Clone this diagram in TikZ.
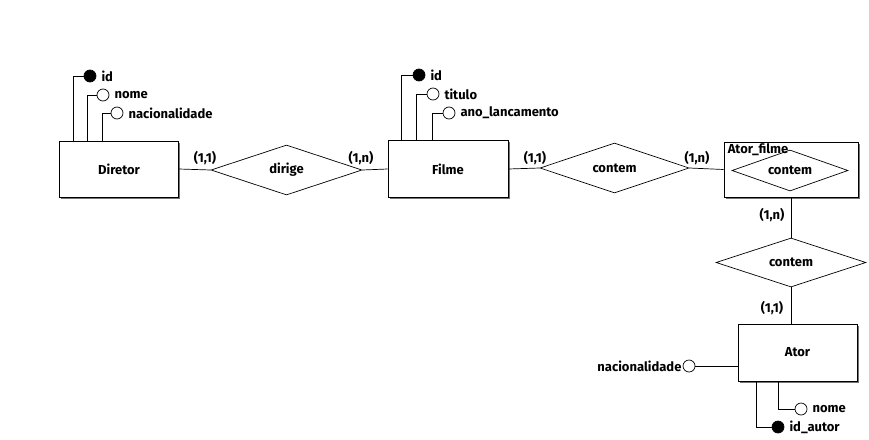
\documentclass[tikz,border=0pt]{standalone}
\usepackage{fontspec}
\setmainfont{Fira Sans}
\usetikzlibrary{shapes.geometric,shadows}
\begin{document}
\begin{tikzpicture}[x=1pt,y=-1pt,
  font=\bfseries\fontsize{13}{15}\selectfont,
  entity/.style={draw,fill=white,line width=0.8pt,
    drop shadow={shadow xshift=1.6pt,shadow yshift=-1.6pt,opacity=1,fill=black!55}},
  rel/.style={draw,diamond,fill=white,line width=0.7pt,inner sep=0pt,aspect=3},
  attr/.style={draw,circle,fill=white,line width=0.7pt,minimum size=12pt,inner sep=0pt},
  keyattr/.style={attr,fill=black},
  card/.style={inner sep=0pt},
  lbl/.style={inner sep=0pt,anchor=west},
  conn/.style={line width=0.7pt}]
\useasboundingbox (0,0) rectangle (869,439);

% entities
\node[entity,minimum width=119pt,minimum height=56pt] (dir) at (119,169) {Diretor};
\node[entity,minimum width=120pt,minimum height=57pt] (fil) at (448,169) {Filme};
\node[entity,minimum width=134pt,minimum height=55pt] (af) at (791,169.5) {};
\node[entity,minimum width=119pt,minimum height=57pt] (ator) at (797.5,352.5) {Ator};

% relationships
\node[rel,minimum width=151pt,minimum height=50pt] (dirige) at (286.5,170) {dirige};
\node[rel,minimum width=149pt,minimum height=50pt] (cont1) at (614.5,168) {contem};
\node[rel,minimum width=116pt,minimum height=41pt] (contin) at (790,170.5) {contem};
\node[rel,minimum width=150pt,minimum height=49pt] (cont2) at (791,262.5) {contem};
\node[lbl,anchor=north west] (aflbl) at ([xshift=4pt,yshift=-2pt]af.north west) {Ator\_filme};

% connectors between entities and relationships
\draw[conn] (dir.east) -- (dirige.west);
\draw[conn] (dirige.east) -- (fil.west);
\draw[conn] (fil.east) -- (cont1.west);
\draw[conn] (cont1.east) -- (af.west);
\draw[conn] (af.south -| cont2.north) -- (cont2.north);
\draw[conn] (cont2.south) -- (ator.north -| cont2.south);

% cardinalities
\node[card] (c1) at (205,158) {(1,1)};
\node[card] (c2) at (361,158) {(1,n)};
\node[card] (c3) at (535,158) {(1,1)};
\node[card] (c4) at (697,158) {(1,n)};
\node[card] (c5) at (772,215) {(1,n)};
\node[card] (c6) at (772,308) {(1,1)};

% Diretor attributes
\node[keyattr] (did) at (90,76) {};
\node[attr] (dnome) at (103,95) {};
\node[attr] (dnac) at (117,113) {};
\node[lbl] at ([xshift=5pt]did.east) {id};
\node[lbl] at ([xshift=5pt]dnome.east) {nome};
\node[lbl] at ([xshift=5pt]dnac.east) {nacionalidade};
\draw[conn] ([xshift=14pt]dir.north west) |- (did.west);
\draw[conn] ([xshift=28pt]dir.north west) |- (dnome.west);
\draw[conn] ([xshift=43pt]dir.north west) |- (dnac.west);

% Filme attributes
\node[keyattr] (fid) at (419,75) {};
\node[attr] (ftit) at (433,94) {};
\node[attr] (fano) at (449,113) {};
\node[lbl] at ([xshift=5pt]fid.east) {id};
\node[lbl] at ([xshift=5pt]ftit.east) {titulo};
\node[lbl] at ([xshift=5pt]fano.east) {ano\_lancamento};
\draw[conn] ([xshift=14pt]fil.north west) |- (fid.west);
\draw[conn] ([xshift=29pt]fil.north west) |- (ftit.west);
\draw[conn] ([xshift=45pt]fil.north west) |- (fano.west);

% Ator attributes
\node[attr] (anac) at (689,366) {};
\node[lbl,anchor=east] at ([xshift=-1pt]anac.west) {nacionalidade};
\draw[conn] (anac.east) -- (ator.west |- anac.east);
\node[attr] (anome) at (801,409) {};
\node[keyattr] (aid) at (778,427) {};
\node[lbl] at ([xshift=5pt]anome.east) {nome};
\node[lbl] at ([xshift=5pt]aid.east) {id\_autor};
\draw[conn] ([xshift=41pt]ator.south west) |- (anome.west);
\draw[conn] ([xshift=19pt]ator.south west) |- (aid.west);
\end{tikzpicture}
\end{document}
